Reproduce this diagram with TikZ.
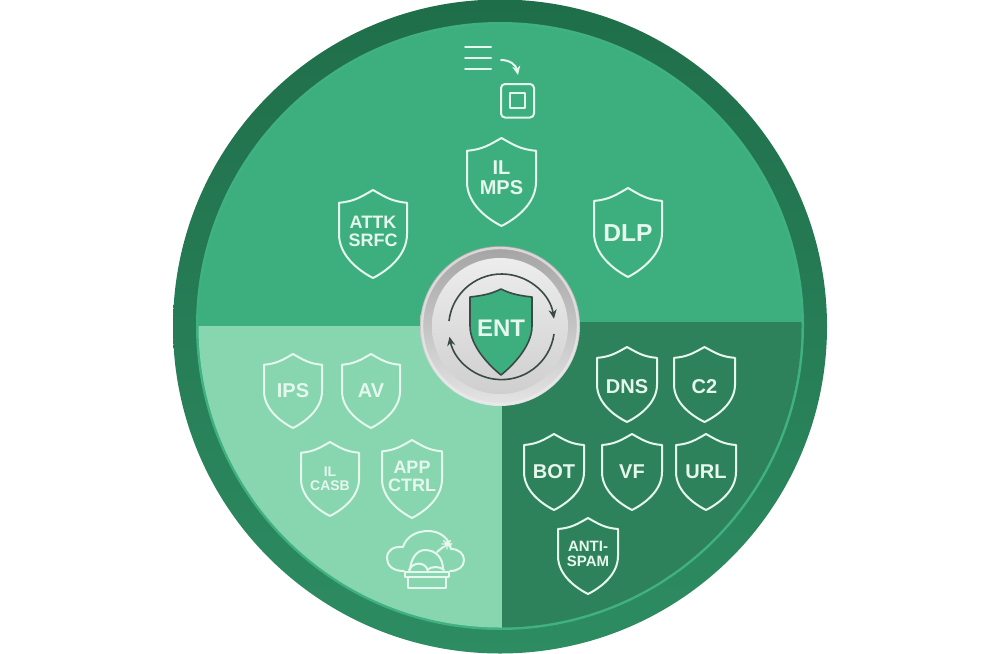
\documentclass[tikz,border=0pt]{standalone}
\usepackage{fontspec}
\setmainfont{Liberation Sans}
\usetikzlibrary{arrows.meta}
\definecolor{ringdark}{HTML}{1F6E4A}
\definecolor{ringmid}{HTML}{2D8C62}
\definecolor{rimgreen}{HTML}{40B181}
\definecolor{topgreen}{HTML}{3DAF7E}
\definecolor{lightgreen}{HTML}{87D6AF}
\definecolor{darkgreen}{HTML}{2E825B}
\definecolor{iconline}{HTML}{E6F7EE}
\definecolor{hubdark}{HTML}{3A4A44}
\definecolor{hubringtop}{HTML}{A4A4A4}
\definecolor{hubringbot}{HTML}{E4E4E4}
\definecolor{hubtop}{HTML}{EDEDED}
\definecolor{hubbot}{HTML}{CFCFCF}
\tikzset{
  icon/.style={draw=iconline,line width=1pt,line join=round,line cap=round},
  hubarrow/.style={draw=hubdark,line width=0.8pt,-{Stealth[length=4.5pt,width=4pt]}},
  shieldlabel/.style={text=iconline,align=center,inner sep=0pt},
}
% #1 name, #2 centre x, #3 top y, #4 half width, #5 height, #6 font pt, #7 label position (fraction of height), #8 text
\newcommand{\shieldicon}[8]{%
  \draw[icon] (#2,#3)
    .. controls (#2+#4*0.36,#3+#5*0.08) and (#2+#4*0.55,#3+#5*0.13) .. (#2+#4,#3+#5*0.145)
    -- (#2+#4,#3+#5*0.5)
    .. controls (#2+#4,#3+#5*0.74) and (#2+#4*0.45,#3+#5*0.91) .. (#2,#3+#5)
    .. controls (#2-#4*0.45,#3+#5*0.91) and (#2-#4,#3+#5*0.74) .. (#2-#4,#3+#5*0.5)
    -- (#2-#4,#3+#5*0.145)
    .. controls (#2-#4*0.55,#3+#5*0.13) and (#2-#4*0.36,#3+#5*0.08) .. (#2,#3) -- cycle;
  \node[shieldlabel,font=\fontsize{#6}{#6}\selectfont\bfseries] (#1) at (#2,#3+#5*#7) {#8};
}
\begin{document}
\begin{tikzpicture}[x=0.5pt,y=-0.5pt]
\useasboundingbox (0,0) rectangle (1000,653);
% outer disc
\shade[top color=ringdark,bottom color=ringmid] (500,326.5) circle[radius=327];
\fill[rimgreen] (500,326) circle[radius=304];
% sectors
\begin{scope}
  \clip (500,326) circle[radius=301.5];
  \fill[topgreen] (190,20) rectangle (810,326);
  \fill[lightgreen] (190,326) rectangle (502,640);
  \fill[darkgreen] (502,322) rectangle (810,640);
\end{scope}
% hub
\shade[top color=hubringtop,bottom color=hubringbot] (500,326) circle[radius=80];
\draw[white!85!gray,line width=1.2pt,opacity=0.7] (500,326) circle[radius=78];
\shade[top color=hubtop,bottom color=hubbot] (500,326) circle[radius=68];
% hub arrows
\draw[hubarrow] (449,321) arc[start angle=-173.5,end angle=-9,radius=53];
\draw[hubarrow] (554,334) arc[start angle=8,end angle=169,radius=53];
\fill[topgreen,draw=hubdark,line width=0.8pt,line join=round]
  (501,289) .. controls (511,294) and (519,295.5) .. (532,297) -- (532,326)
  .. controls (532,347) and (511,367) .. (501,375)
  .. controls (491,367) and (470,347) .. (470,326)
  -- (470,297) .. controls (483,295.5) and (491,294) .. (501,289) -- cycle;
\node[text=iconline,font=\fontsize{12}{12}\selectfont\bfseries,inner sep=0pt] (ent) at (501,328) {ENT};
% top icon
\draw[icon] (465,47) -- (491,47) (465,58) -- (491,58) (465,69) -- (491,69);
\draw[icon,-{Stealth[length=4.5pt,width=4pt]}] (501,60) .. controls (510,60) and (516,65) .. (518,75);
\draw[icon,rounded corners=2pt] (501,84) rectangle (534,117.5);
\draw[icon] (509.5,93) rectangle (525,108);
% shields
\shieldicon{ilmps}{501.5}{138}{34.5}{88}{10}{0.45}{IL\\MPS}
\shieldicon{attk}{373}{190}{34}{88}{9}{0.47}{ATTK\\SRFC}
\shieldicon{dlp}{628}{188}{34}{89}{12.3}{0.506}{DLP}
\shieldicon{ips}{293}{354}{29}{74}{10}{0.5}{IPS}
\shieldicon{av}{371}{354}{29}{74}{10}{0.5}{AV}
\shieldicon{ilcasb}{330}{442}{29}{74}{7}{0.49}{IL\\CASB}
\shieldicon{app}{412}{440}{30}{78}{9}{0.47}{APP\\CTRL}
\shieldicon{dns}{627}{347}{30}{75}{10}{0.533}{DNS}
\shieldicon{ctwo}{704.5}{347}{30.5}{75}{10}{0.533}{C2}
\shieldicon{bot}{554}{434}{30}{76}{10}{0.5}{BOT}
\shieldicon{vf}{632}{434}{30}{76}{10}{0.5}{VF}
\shieldicon{url}{706}{434}{30}{76}{10}{0.5}{URL}
\shieldicon{spam}{588}{518}{30}{76}{7.5}{0.47}{ANTI-\\SPAM}
% cloud bomb icon
\draw[icon] (404,571) .. controls (392,571) and (387,565) .. (387,558)
  .. controls (387,550) and (394,546) .. (403,547)
  .. controls (406,537) and (416,531) .. (428,531)
  .. controls (440,531) and (449,538) .. (451,549)
  .. controls (459,549) and (464,554) .. (464,560)
  .. controls (464,567) and (458,571) .. (450,571);
\draw[icon] (405,572) rectangle (449,577);
\draw[icon] (408,577) rectangle (446,588);
\draw[icon] (410,570) .. controls (411,558) and (417,550) .. (425,550) .. controls (436,550) and (443,558) .. (443,569);
\draw[icon] (409,570) .. controls (413,562) and (424,561) .. (428,570);
\draw[icon] (427,570) .. controls (431,566) and (440,566) .. (444,570);
\draw[icon] (437,552) -- (443,547);
\draw[icon,line width=0.7pt] (447,539) -- (447,549) (442,544) -- (452,544) (443.5,540.5) -- (450.5,547.5) (450.5,540.5) -- (443.5,547.5);
\end{tikzpicture}
\end{document}
